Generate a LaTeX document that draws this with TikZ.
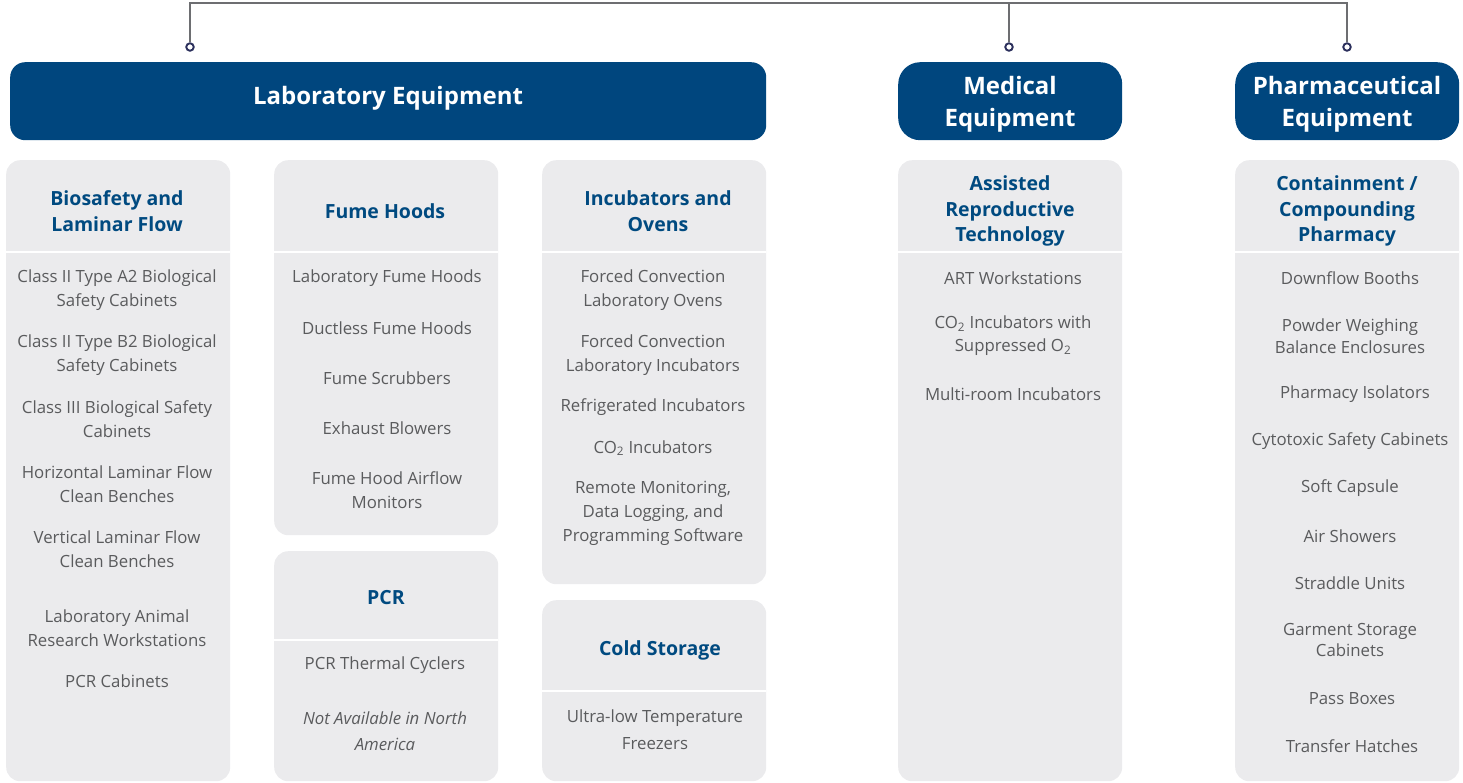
\documentclass[tikz,border=0pt]{standalone}
\usepackage{fontspec}
\setmainfont{Open Sans}
\definecolor{hdrblue}{HTML}{00467E}
\definecolor{headblue}{HTML}{004A80}
\definecolor{boxgray}{HTML}{EBEBED}
\definecolor{txtgray}{HTML}{5A5B5D}
\definecolor{linegray}{HTML}{6D6E71}
\definecolor{dotnavy}{HTML}{2B2F5C}
\begin{document}
\begin{tikzpicture}[x=1pt,y=-1pt,
  hdr/.style={fill=hdrblue, anchor=north west, inner sep=0pt},
  hdrtext/.style={text=white, inner sep=0pt, align=center, font=\bfseries\fontsize{24}{32}\selectfont},
  gbox/.style={fill=boxgray, rounded corners=14pt, anchor=north west, inner sep=0pt, minimum width=224pt},
  divider/.style={draw=white, line width=2pt},
  head/.style={text=headblue, align=center, inner sep=0pt, yshift=-2pt, font=\bfseries\fontsize{19.5}{25.5}\selectfont},
  item/.style={text=txtgray, align=center, inner sep=0pt, yshift=-2pt, font=\fontsize{16.8}{24}\selectfont},
  dot/.style={circle, draw=dotnavy, fill=white, line width=1.9pt, minimum size=7.5pt, inner sep=0pt},
  conn/.style={draw=linegray, line width=1.2pt}
]
\useasboundingbox (0,0) rectangle (1463,782);

% connectors
\coordinate (j1) at (190,3);
\coordinate (j2) at (1009,3);
\coordinate (j3) at (1347,3);
\node[dot] (d1) at (190,47) {};
\node[dot] (d2) at (1009,47) {};
\node[dot] (d3) at (1347,47) {};
\draw[conn] (d1.north) -- (j1) -- (j3) -- (d3.north);
\draw[conn] (d2.north) -- (j2);

% header boxes
\node[hdr, rounded corners=15pt, minimum width=756pt, minimum height=78pt] (lab) at (10,62) {};
\node[hdr, rounded corners=22pt, minimum width=224pt, minimum height=78pt] (med) at (898,62) {};
\node[hdr, rounded corners=22pt, minimum width=224pt, minimum height=78pt] (pha) at (1235,62) {};
\node[hdrtext] (labt) at (388,98) {Laboratory Equipment};
\node[hdrtext] (medt) at (1010,104) {Medical\\Equipment};
\node[hdrtext] (phat) at (1347,104) {Pharmaceutical\\Equipment};

% gray boxes
\node[gbox, minimum height=621pt] (bio) at (6,160) {};
\node[gbox, minimum height=375pt] (fume) at (274,160) {};
\node[gbox, minimum height=230pt] (pcr) at (274,551) {};
\node[gbox, minimum height=424pt] (incu) at (542,160) {};
\node[gbox, minimum height=181pt] (cold) at (542,600) {};
\node[gbox, minimum height=621pt] (art) at (898,160) {};
\node[gbox, minimum height=621pt] (cont) at (1235,160) {};

% dividers
\draw[divider] (bio.west |- 0,252) -- (bio.east |- 0,252);
\draw[divider] (fume.west |- 0,252) -- (fume.east |- 0,252);
\draw[divider] (pcr.west |- 0,640) -- (pcr.east |- 0,640);
\draw[divider] (incu.west |- 0,252) -- (incu.east |- 0,252);
\draw[divider] (cold.west |- 0,691) -- (cold.east |- 0,691);
\draw[divider] (art.west |- 0,252) -- (art.east |- 0,252);
\draw[divider] (cont.west |- 0,252) -- (cont.east |- 0,252);

% Biosafety column
\node[head] (bioh) at (117,209) {Biosafety and\\Laminar Flow};
\node[item] (bio1) at (117,288) {Class II Type A2 Biological\\Safety Cabinets};
\node[item] (bio2) at (117,353) {Class II Type B2 Biological\\Safety Cabinets};
\node[item] (bio3) at (117,417) {Class III Biological Safety\\Cabinets};
\node[item] (bio4) at (117,482) {Horizontal Laminar Flow\\Clean Benches};
\node[item] (bio5) at (117,547) {Vertical Laminar Flow\\Clean Benches};
\node[item] (bio6) at (117,626) {Laboratory Animal\\Research Workstations};
\node[item] (bio7) at (117,679) {PCR Cabinets};

% Fume hoods
\node[head] (fumeh) at (385,209) {Fume Hoods};
\node[item] (fume1) at (387,276) {Laboratory Fume Hoods};
\node[item] (fume2) at (387,326) {Ductless Fume Hoods};
\node[item] (fume3) at (387,376) {Fume Scrubbers};
\node[item] (fume4) at (387,426) {Exhaust Blowers};
\node[item] (fume5) at (387,488) {Fume Hood Airflow\\Monitors};

% PCR
\node[head] (pcrh) at (386,596) {PCR};
\node[item] (pcr1) at (385,663) {PCR Thermal Cyclers};
\node[item, font=\itshape\fontsize{16.8}{26}\selectfont] (pcr2) at (385,729) {Not Available in North\\America};

% Incubators
\node[head] (incuh) at (658,209) {Incubators and\\Ovens};
\node[item] (incu1) at (653,288) {Forced Convection\\Laboratory Ovens};
\node[item] (incu2) at (653,353) {Forced Convection\\Laboratory Incubators};
\node[item] (incu3) at (653,405) {Refrigerated Incubators};
\node[item] (incu4) at (653,446) {CO\textsubscript{2} Incubators};
\node[item] (incu5) at (653,511) {Remote Monitoring,\\Data Logging, and\\Programming Software};

% Cold storage
\node[head] (coldh) at (660,648) {Cold Storage};
\node[item, font=\fontsize{16.8}{27}\selectfont] (cold1) at (655,728) {Ultra-low Temperature\\Freezers};

% ART
\node[head] (arth) at (1010,209) {Assisted\\Reproductive\\Technology};
\node[item] (art1) at (1013,276) {ART Workstations};
\node[item, font=\fontsize{16.8}{23}\selectfont] (art2) at (1013,334) {CO\textsubscript{2} Incubators with\\Suppressed O\textsubscript{2}};
\node[item] (art3) at (1013,392) {Multi-room Incubators};

% Containment
\node[head] (conth) at (1347,209) {Containment /\\Compounding\\Pharmacy};
\node[item] (cont1) at (1350,276) {Downflow Booths};
\node[item, font=\fontsize{16.8}{22}\selectfont] (cont2) at (1350,334) {Powder Weighing\\Balance Enclosures};
\node[item] (cont3) at (1355,392) {Pharmacy Isolators};
\node[item] (cont4) at (1350,439) {Cytotoxic Safety Cabinets};
\node[item] (cont5) at (1350,486) {Soft Capsule};
\node[item] (cont6) at (1350,534) {Air Showers};
\node[item] (cont7) at (1350,581) {Straddle Units};
\node[item, font=\fontsize{16.8}{21}\selectfont] (cont8) at (1350,638) {Garment Storage\\Cabinets};
\node[item] (cont9) at (1352,697) {Pass Boxes};
\node[item] (cont10) at (1352,744) {Transfer Hatches};
\end{tikzpicture}
\end{document}
